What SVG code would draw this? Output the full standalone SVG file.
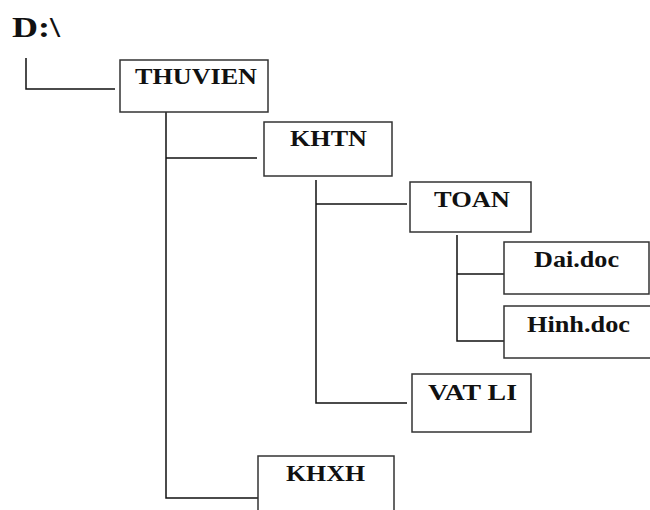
<svg xmlns="http://www.w3.org/2000/svg" width="650" height="510" viewBox="0 0 650 510">
<style>
.box{fill:#fff;stroke:#333;stroke-width:1.5}
.lbl{font-family:"Liberation Serif","Times New Roman",serif;font-weight:bold;font-size:23px;fill:#111;text-anchor:middle}
.conn{fill:none;stroke:#111;stroke-width:1.5}
</style>
<rect width="650" height="510" fill="#fff"/>
<g id="root">
<text x="12" y="37" font-family="Liberation Serif, serif" font-weight="bold" font-size="30" fill="#111" textLength="48" lengthAdjust="spacingAndGlyphs">D:\</text>
</g>
<g id="connectors">
<polyline class="conn" points="26,58 26,89 115,89"/>
<polyline class="conn" points="166,112 166,498 258,498"/>
<line class="conn" x1="166" y1="158" x2="257" y2="158"/>
<polyline class="conn" points="316,180 316,403 407,403"/>
<line class="conn" x1="316" y1="204" x2="407" y2="204"/>
<polyline class="conn" points="457,235 457,341 504,341"/>
<line class="conn" x1="457" y1="274" x2="504" y2="274"/>
</g>
<g id="thuvien">
<rect class="box" x="120" y="60" width="148" height="52"/>
<text class="lbl" x="196" y="84" textLength="122" lengthAdjust="spacingAndGlyphs">THUVIEN</text>
</g>
<g id="khtn">
<rect class="box" x="264" y="122" width="128" height="54"/>
<text class="lbl" x="328.5" y="146" textLength="77" lengthAdjust="spacingAndGlyphs">KHTN</text>
</g>
<g id="toan">
<rect class="box" x="410" y="182" width="121" height="50"/>
<text class="lbl" x="472" y="207" textLength="76" lengthAdjust="spacingAndGlyphs">TOAN</text>
</g>
<g id="dai">
<rect class="box" x="504" y="242" width="145" height="52"/>
<text class="lbl" x="576.5" y="267" textLength="85" lengthAdjust="spacingAndGlyphs">Dai.doc</text>
</g>
<g id="hinh">
<rect class="box" x="504" y="306" width="152" height="52"/>
<text class="lbl" x="578.5" y="332" textLength="103" lengthAdjust="spacingAndGlyphs">Hinh.doc</text>
</g>
<g id="vatli">
<rect class="box" x="412" y="374" width="119" height="58"/>
<text class="lbl" x="472.5" y="400" textLength="89" lengthAdjust="spacingAndGlyphs">VAT LI</text>
</g>
<g id="khxh">
<rect class="box" x="258" y="456" width="136" height="60"/>
<text class="lbl" x="325.5" y="481" textLength="79" lengthAdjust="spacingAndGlyphs">KHXH</text>
</g>
</svg>
